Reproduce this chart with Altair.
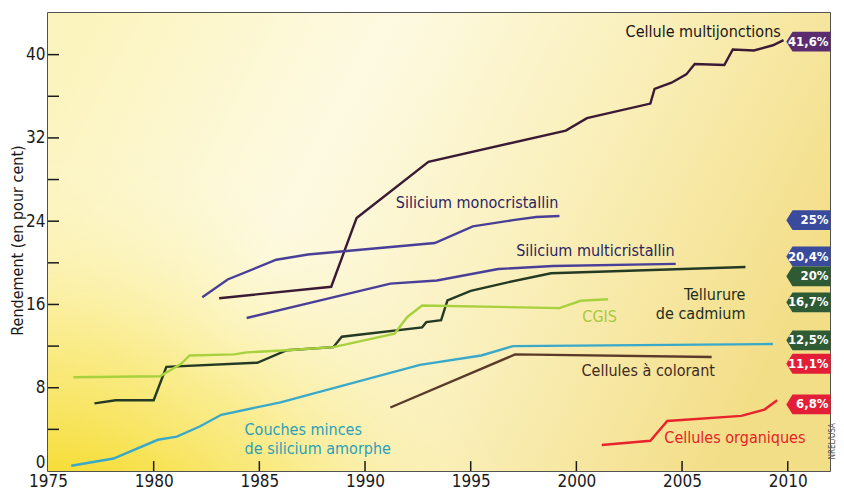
import altair as alt
import pandas as pd

# ---------------- data ----------------
series_names = [
    "Cellule multijonctions", "Silicium monocristallin", "Silicium multicristallin",
    "Tellurure de cadmium", "CGIS", "Couches minces de silicium amorphe",
    "Cellules à colorant", "Cellules organiques",
]
series_colors = ["#3a1a34", "#4a3f98", "#4a3f98", "#243a24", "#a8d13e", "#3aa9c9", "#5a3b2b", "#e8232b"]

multi_j_years = [1983.1, 1988.4, 1989.6, 1993.0, 1999.5, 2000.5, 2003.5, 2003.7, 2004.5, 2005.2, 2005.6, 2007.0, 2007.4, 2008.4, 2009.3, 2009.8]
multi_j_vals = [16.6, 17.7, 24.3, 29.7, 32.7, 33.9, 35.3, 36.7, 37.3, 38.1, 39.1, 39.0, 40.5, 40.4, 40.9, 41.4]

mono_years = [1982.3, 1983.5, 1985.8, 1987.3, 1993.3, 1995.1, 1997.0, 1998.1, 1999.2]
mono_vals = [16.7, 18.4, 20.3, 20.8, 21.9, 23.5, 24.1, 24.4, 24.5]

multic_years = [1984.4, 1991.2, 1993.4, 1996.3, 1998.9, 2004.7]
multic_vals = [14.7, 18.0, 18.3, 19.4, 19.7, 19.9]

cdte_years = [1977.2, 1978.2, 1980.0, 1980.6, 1984.9, 1986.3, 1988.5, 1988.9, 1992.7, 1992.9, 1993.6, 1993.9, 1995.0, 1996.7, 1998.8, 2008.0]
cdte_vals = [6.5, 6.8, 6.8, 10.0, 10.4, 11.6, 11.9, 12.9, 13.8, 14.3, 14.5, 16.4, 17.3, 18.1, 19.0, 19.6]

cgis_years = [1976.2, 1980.3, 1981.3, 1981.7, 1983.8, 1984.4, 1986.3, 1988.5, 1991.4, 1992.0, 1992.7, 1999.2, 2000.2, 2001.5]
cgis_vals = [9.0, 9.1, 10.3, 11.1, 11.2, 11.4, 11.6, 11.9, 13.2, 14.8, 15.9, 15.65, 16.35, 16.5]

asi_years = [1976.1, 1978.1, 1980.2, 1981.1, 1982.2, 1983.2, 1986.0, 1992.6, 1995.5, 1997.0, 2009.3]
asi_vals = [0.5, 1.2, 3.0, 3.3, 4.3, 5.4, 6.6, 10.2, 11.1, 12.0, 12.2]

dye_years = [1991.2, 1997.1, 2006.4]
dye_vals = [6.1, 11.2, 10.95]

org_years = [2001.2, 2003.5, 2004.3, 2007.8, 2008.9, 2009.5]
org_vals = [2.5, 2.9, 4.8, 5.3, 5.9, 6.8]

all_years = [multi_j_years, mono_years, multic_years, cdte_years, cgis_years, asi_years, dye_years, org_years]
all_vals = [multi_j_vals, mono_vals, multic_vals, cdte_vals, cgis_vals, asi_vals, dye_vals, org_vals]

# curve labels
label_texts = ["Cellule multijonctions", "Silicium monocristallin", "Silicium multicristallin",
               "Tellurure\nde cadmium", "CGIS", "Couches minces\nde silicium amorphe",
               "Cellules à colorant", "Cellules organiques"]
label_x = [2006.0, 1995.3, 2000.9, 2008.0, 2001.1, 1984.3, 2003.4, 2007.5]
label_y = [42.2, 25.7, 21.1, 16.9, 14.8, 3.9, 9.6, 3.2]
label_align = ["center", "center", "center", "right", "center", "left", "center", "center"]
label_colors = ["#1c1414", "#2a2460", "#2a2460", "#1d2e1d", "#a6c93a", "#2aa0b8", "#3e2a1e", "#e41e26"]

# record badges on the right
badge_texts = ["41,6%", "25%", "20,4%", "20%", "16,7%", "12,5%", "11,1%", "6,8%"]
badge_y = [41.25, 24.1, 20.6, 18.7, 16.2, 12.55, 10.3, 6.4]
badge_colors = ["#5b2d6e", "#3a4a9c", "#3a4a9c", "#2e5a34", "#2e5a34", "#2e5a34", "#e21f36", "#e21f36"]

y_tick_values = [4, 8, 12, 16, 20, 24, 28, 32, 36, 40]
y_label_values = [0, 8, 16, 24, 32, 40]
x_tick_values = [1980, 1985, 1990, 1995, 2000, 2005, 2010]
x_label_values = [1975, 1980, 1985, 1990, 1995, 2000, 2005, 2010]

FONT = "DejaVu Sans Condensed, Roboto Condensed, Roboto, sans-serif"
X_DOMAIN = [1975, 2012]
Y_DOMAIN = [0, 44]

# ---------------- tables ----------------
rows = []
for i, (name, yrs, vs) in enumerate(zip(series_names, all_years, all_vals)):
    for j, (yr, v) in enumerate(zip(yrs, vs)):
        rows.append({"series": name, "year": yr, "value": v, "order": j})
lines_df = pd.DataFrame(rows)

labels_df = pd.DataFrame({"text": label_texts, "year": label_x, "value": label_y,
                          "align": label_align, "color": label_colors})
badges_df = pd.DataFrame({"text": badge_texts, "value": badge_y, "color": badge_colors,
                          "year": [2010.98] * len(badge_texts), "tx": [2011.93] * len(badge_texts)})
yt_df = pd.DataFrame({"value": y_tick_values, "x0": [1975.0] * len(y_tick_values),
                      "x1": [1975.52] * len(y_tick_values)})
xt_df = pd.DataFrame({"year": x_tick_values, "y0": [0.0] * len(x_tick_values),
                      "y1": [0.95] * len(x_tick_values)})

xs = alt.Scale(domain=X_DOMAIN, nice=False, zero=False)
ys = alt.Scale(domain=Y_DOMAIN, nice=False)

# ---------------- background ----------------
bg_data = alt.Data(values=[{"k": 0}])
bg_linear = alt.Chart(bg_data).mark_rect(
    fill=alt.Gradient(gradient="linear", x1=0, y1=0.2, x2=1, y2=0.5,
                      stops=[alt.GradientStop(color="#fcf4be", offset=0),
                             alt.GradientStop(color="#fdfae2", offset=0.35),
                             alt.GradientStop(color="#faf0bc", offset=0.65),
                             alt.GradientStop(color="#f3de88", offset=1)])
).encode(x=alt.value(0), x2=alt.value("width"), y=alt.value(0), y2=alt.value("height"))

bg_radial = alt.Chart(bg_data).mark_rect(
    fill=alt.Gradient(gradient="radial", x1=0, y1=1, r1=0, x2=0, y2=1, r2=0.62,
                      stops=[alt.GradientStop(color="rgba(244,212,10,1)", offset=0),
                             alt.GradientStop(color="rgba(245,218,35,0.95)", offset=0.3),
                             alt.GradientStop(color="rgba(248,228,90,0.6)", offset=0.6),
                             alt.GradientStop(color="rgba(252,245,200,0)", offset=1)])
).encode(x=alt.value(0), x2=alt.value("width"), y=alt.value(0), y2=alt.value("height"))

# ---------------- axes ----------------
base_x = alt.X("year:Q", scale=xs,
               axis=alt.Axis(values=x_label_values, format="d", ticks=False, domain=False, grid=False,
                             labelFont=FONT, labelFontSize=17, labelColor="#1a1a1a", labelPadding=2,
                             labelFlush=False, title=None))
base_y = alt.Y("value:Q", scale=ys,
               axis=alt.Axis(values=y_label_values, ticks=False, domain=False, grid=False,
                             labelFont=FONT, labelFontSize=17, labelColor="#1a1a1a", labelPadding=3,
                             labelFlush=True,
                             title="Rendement (en pour cent)", titleFont=FONT, titleFontSize=16,
                             titleFontWeight="normal", titleColor="#1a1a1a",
                             titleAngle=270, titleAlign="center", titleBaseline="middle",
                             titleX=-31, titleY=227))

lines = alt.Chart(lines_df).mark_line(strokeWidth=2.4).encode(
    x=base_x, y=base_y,
    color=alt.Color("series:N", scale=alt.Scale(domain=series_names, range=series_colors), legend=None),
    detail="series:N",
    order="order:Q",
)

y_ticks = alt.Chart(yt_df).mark_rule(color="#1a1a1a", strokeWidth=1.5).encode(
    x=alt.X("x0:Q", scale=xs), x2="x1:Q", y=alt.Y("value:Q", scale=ys))
x_ticks = alt.Chart(xt_df).mark_rule(color="#1a1a1a", strokeWidth=1.5).encode(
    x=alt.X("year:Q", scale=xs), y=alt.Y("y0:Q", scale=ys), y2="y1:Q")


def label_layer(al):
    return alt.Chart(labels_df[labels_df["align"] == al]).mark_text(
        font=FONT, fontSize=16, lineBreak="\n", baseline="middle", lineHeight=19, align=al
    ).encode(x=alt.X("year:Q", scale=xs), y=alt.Y("value:Q", scale=ys), text="text:N",
             color=alt.Color("color:N", scale=None))


badge_shape = "M-1,0L-0.72,-0.45L1,-0.45L1,0.45L-0.72,0.45Z"
badges = alt.Chart(badges_df).mark_point(shape=badge_shape, filled=True, size=1960, opacity=1,
                                         strokeWidth=0).encode(
    x=alt.X("year:Q", scale=xs), y=alt.Y("value:Q", scale=ys),
    color=alt.Color("color:N", scale=None))
badge_text = alt.Chart(badges_df).mark_text(font=FONT, fontSize=13, fontWeight="bold", color="white",
                                            align="right", baseline="middle").encode(
    x=alt.X("tx:Q", scale=xs), y=alt.Y("value:Q", scale=ys), text="text:N")

credit = alt.Chart(alt.Data(values=[{"t": "NREL/USA", "year": 2012.15, "value": 2.85}])).mark_text(
    font=FONT, fontSize=8, color="#555555", angle=270, align="center", baseline="middle"
).encode(x=alt.X("year:Q", scale=xs), y=alt.Y("value:Q", scale=ys), text="t:N")

chart = alt.layer(
    bg_linear, bg_radial, lines, y_ticks, x_ticks,
    label_layer("center"), label_layer("left"), label_layer("right"),
    badges, badge_text, credit,
).properties(
    width=782, height=458,
    padding={"left": 40, "top": 5, "right": 6, "bottom": 20},
    autosize=alt.AutoSizeParams(type="none"),
    background="white",
).configure_view(stroke="#1a1a1a", strokeWidth=1.5)

chart.save("out.html", embed_options={"renderer": "svg", "actions": False})
